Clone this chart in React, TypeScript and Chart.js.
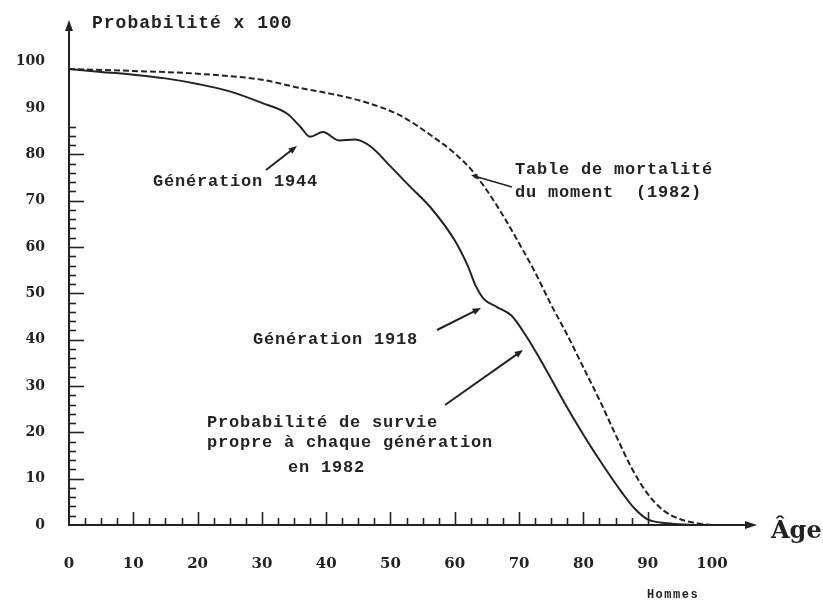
import React, { useEffect, useRef } from 'react';
import { Chart, registerables } from 'chart.js';

Chart.register(...registerables);

// ---- data ----
const generationAges = [0, 5, 10, 15, 20, 25, 30, 34, 36, 37.5, 39.5, 42, 44.5, 47, 50, 53, 56.5, 60, 62, 63.3, 64.5, 66.5, 68.8, 71, 74, 77, 80, 83, 86, 88, 90, 93, 97];
const generationValues = [98.4, 97.8, 97.2, 96.4, 95.2, 93.6, 91.1, 88.7, 85.9, 83.8, 84.8, 83.0, 83.2, 81.6, 77.4, 73.1, 68.1, 61.4, 56.0, 51.5, 48.8, 47.1, 45.2, 41.0, 34.0, 26.5, 19.5, 13.0, 7.0, 3.5, 1.2, 0.4, 0];

const tableAges = [0, 10, 20, 30, 36, 41, 46, 51.5, 56.5, 60, 62.5, 65, 67.5, 70, 72.5, 75, 77.5, 80, 82.5, 85, 87.5, 90, 92.5, 95, 97.5, 100];
const tableValues = [98.4, 98.0, 97.4, 96.1, 94.3, 93.0, 91.3, 88.4, 83.9, 80.2, 76.8, 72.2, 66.8, 60.8, 54.5, 47.5, 41.0, 34.0, 27.0, 19.5, 12.3, 6.7, 3.1, 1.3, 0.4, 0];

const xTickLabels = [0, 10, 20, 30, 40, 50, 60, 70, 80, 90, 100];
const yTickLabels = [0, 10, 20, 30, 40, 50, 60, 70, 80, 90, 100];

const yAxisTitle = 'Probabilité x 100';
const xAxisTitle = 'Âge';
const sexLabel = 'Hommes';
const label1944 = 'Génération 1944';
const label1918 = 'Génération 1918';
const labelTable = ['Table de mortalité', 'du moment  (1982)'];
const labelSurvie = ['Probabilité de survie', 'propre à chaque génération', 'en 1982'];

const INK = '#232323';
const MONO = '"Liberation Mono", "DejaVu Sans Mono", monospace';
const SERIF = '"DejaVu Serif", "Liberation Serif", serif';

function arrow(ctx: CanvasRenderingContext2D, x1: number, y1: number, x2: number, y2: number, head = 9, width = 2) {
  const ang = Math.atan2(y2 - y1, x2 - x1);
  ctx.lineWidth = width;
  ctx.beginPath();
  ctx.moveTo(x1, y1);
  ctx.lineTo(x2 - Math.cos(ang) * head * 0.6, y2 - Math.sin(ang) * head * 0.6);
  ctx.stroke();
  ctx.beginPath();
  ctx.moveTo(x2, y2);
  ctx.lineTo(x2 - head * Math.cos(ang - 0.38), y2 - head * Math.sin(ang - 0.38));
  ctx.lineTo(x2 - head * Math.cos(ang + 0.38), y2 - head * Math.sin(ang + 0.38));
  ctx.closePath();
  ctx.fill();
}

const decorations = {
  id: 'decorations',
  afterDraw(chart: any) {
    const { ctx, chartArea: a, scales } = chart;
    const xs = scales.x;
    const ys = scales.y;
    const x0 = xs.getPixelForValue(0);
    const y0 = ys.getPixelForValue(0);
    ctx.save();
    ctx.strokeStyle = INK;
    ctx.fillStyle = INK;
    ctx.lineCap = 'butt';

    // y axis with arrow
    ctx.lineWidth = 2;
    ctx.beginPath();
    ctx.moveTo(x0, y0 + 1);
    ctx.lineTo(x0, a.top + 6);
    ctx.stroke();
    ctx.beginPath();
    ctx.moveTo(x0, a.top);
    ctx.lineTo(x0 - 4, a.top + 11);
    ctx.lineTo(x0 + 4, a.top + 11);
    ctx.closePath();
    ctx.fill();

    // x axis with arrow
    ctx.beginPath();
    ctx.moveTo(x0 - 1, y0);
    ctx.lineTo(a.right - 6, y0);
    ctx.stroke();
    ctx.beginPath();
    ctx.moveTo(a.right, y0);
    ctx.lineTo(a.right - 12, y0 - 4);
    ctx.lineTo(a.right - 12, y0 + 4);
    ctx.closePath();
    ctx.fill();

    // y ticks (pointing inward)
    ctx.lineWidth = 1.6;
    for (let v = 2; v <= 86; v += 2) {
      const py = Math.round(ys.getPixelForValue(v)) + 0.5;
      const len = v % 10 === 0 ? 14 : 6;
      ctx.beginPath();
      ctx.moveTo(x0 + 1, py);
      ctx.lineTo(x0 + 1 + len, py);
      ctx.stroke();
    }
    // x ticks (pointing up)
    for (let v = 2.5; v <= 90; v += 2.5) {
      const px = Math.round(xs.getPixelForValue(v)) + 0.5;
      const len = v % 10 === 0 ? 13 : 7;
      ctx.beginPath();
      ctx.moveTo(px, y0);
      ctx.lineTo(px, y0 - len);
      ctx.stroke();
    }

    // titles
    ctx.textBaseline = 'middle';
    ctx.textAlign = 'left';
    ctx.font = `bold 18px ${MONO}`;
    (ctx as any).letterSpacing = '1px';
    ctx.fillText(yAxisTitle, 92, 23);

    (ctx as any).letterSpacing = '0px';
    ctx.font = `bold 24px ${SERIF}`;
    ctx.fillText(xAxisTitle, 771, 532);

    ctx.font = `bold 12px ${MONO}`;
    (ctx as any).letterSpacing = '1.5px';
    ctx.textAlign = 'center';
    ctx.fillText(sexLabel, 673, 595);

    // annotations
    ctx.textAlign = 'left';
    ctx.font = `bold 17px ${MONO}`;
    (ctx as any).letterSpacing = '0.8px';
    ctx.fillText(label1944, 153, 182);
    ctx.fillText(label1918, 253, 340);
    ctx.fillText(labelTable[0], 515, 170);
    ctx.fillText(labelTable[1], 515, 193);
    ctx.fillText(labelSurvie[0], 207, 423);
    ctx.fillText(labelSurvie[1], 207, 443);
    ctx.fillText(labelSurvie[2], 288, 468);

    // arrows
    ctx.strokeStyle = INK;
    arrow(ctx, 266, 170, 297, 146);
    arrow(ctx, 437, 330, 481, 308);
    arrow(ctx, 445, 405, 523, 350);
    arrow(ctx, 512, 187, 471, 175, 7, 1.6);

    ctx.restore();
  },
};

export default function App() {
  const ref = useRef<HTMLCanvasElement | null>(null);

  useEffect(() => {
    if (!ref.current) return;
    const tickColor = INK;
    const chart = new Chart(ref.current, {
      type: 'line',
      data: {
        datasets: [
          {
            label: 'Table de mortalité du moment (1982)',
            data: tableAges.map((a, i) => ({ x: a, y: tableValues[i] })),
            borderColor: INK,
            borderWidth: 2,
            borderDash: [6, 3],
            pointRadius: 0,
            fill: false,
            cubicInterpolationMode: 'monotone',
          },
          {
            label: 'Probabilité de survie propre à chaque génération en 1982',
            data: generationAges.map((a, i) => ({ x: a, y: generationValues[i] })),
            borderColor: INK,
            borderWidth: 2,
            pointRadius: 0,
            fill: false,
            cubicInterpolationMode: 'monotone',
          },
        ],
      },
      options: {
        animation: false,
        responsive: false,
        maintainAspectRatio: false,
        layout: { padding: { left: 0, right: 823 - 757, top: 20, bottom: 0 } },
        plugins: {
          legend: { display: false },
          tooltip: { enabled: false },
          title: { display: false },
        },
        scales: {
          x: {
            type: 'linear',
            min: 0,
            max: 107,
            border: { display: false },
            grid: { display: false, drawTicks: false },
            ticks: {
              padding: 30,
              color: tickColor,
              font: { family: SERIF, size: 15, weight: 'bold' },
              maxRotation: 0,
              autoSkip: false,
            },
            afterBuildTicks: (s: any) => {
              s.ticks = xTickLabels.map((v) => ({ value: v }));
            },
            afterFit: (s: any) => {
              s.height = 603 - 525;
              s.paddingLeft = 0;
              s.paddingRight = 0;
              s.paddingTop = 0;
              s.paddingBottom = 0;
            },
          },
          y: {
            type: 'linear',
            min: 0,
            max: 109,
            border: { display: false },
            grid: { display: false, drawTicks: false },
            ticks: {
              padding: 24,
              color: tickColor,
              font: { family: SERIF, size: 14, weight: 'bold' },
              autoSkip: false,
              labelOffset: 0,
            },
            afterBuildTicks: (s: any) => {
              s.ticks = yTickLabels.map((v) => ({ value: v }));
            },
            afterFit: (s: any) => {
              s.width = 69;
              s.paddingLeft = 0;
              s.paddingRight = 0;
              s.paddingTop = 0;
              s.paddingBottom = 0;
            },
          },
        },
      } as any,
      plugins: [decorations],
    });
    return () => chart.destroy();
  }, []);

  return (
    <div style={{ position: 'absolute', left: 0, top: 0, width: 823, height: 603, background: '#fff' }}>
      <canvas ref={ref} width={823} height={603} style={{ display: 'block' }} />
    </div>
  );
}
